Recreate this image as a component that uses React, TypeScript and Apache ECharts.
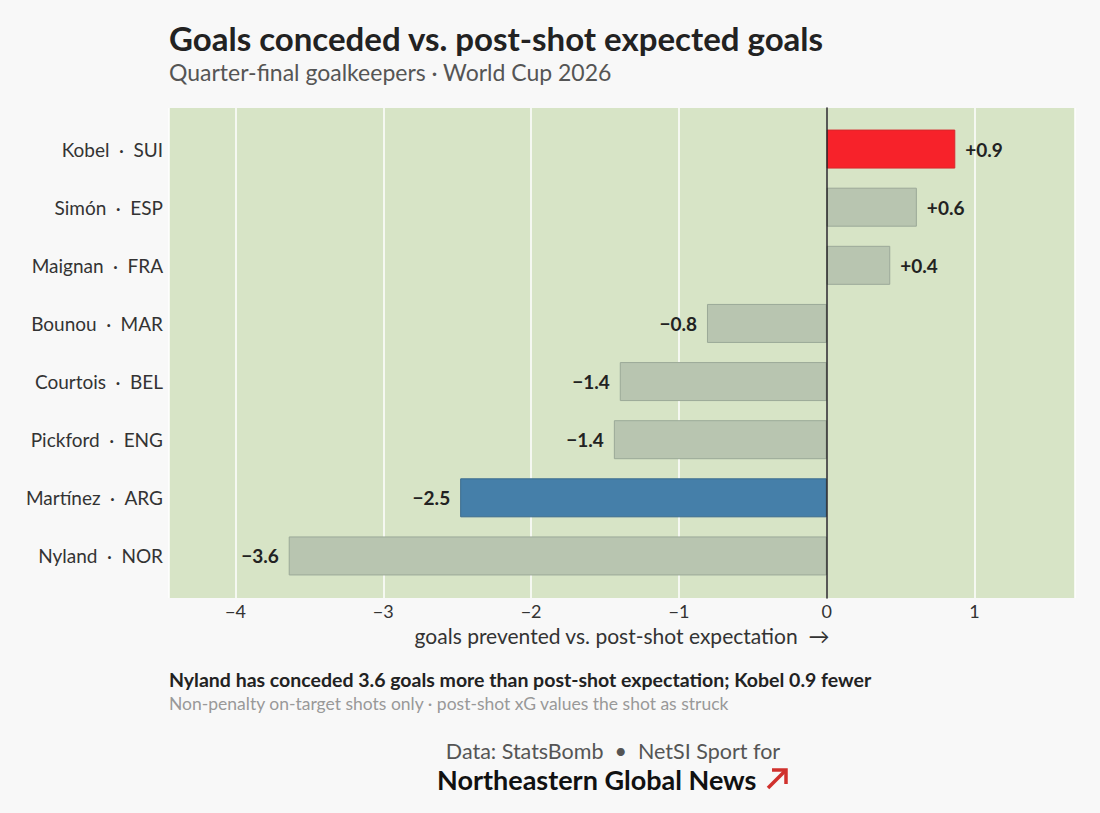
import { useEffect, useRef } from 'react';
import * as echarts from 'echarts';

const keepers = ['Kobel', 'Simón', 'Maignan', 'Bounou', 'Courtois', 'Pickford', 'Martínez', 'Nyland'];
const nations = ['SUI', 'ESP', 'FRA', 'MAR', 'BEL', 'ENG', 'ARG', 'NOR'];
// goals prevented vs. post-shot xG
const goalsPrevented = [0.87, 0.61, 0.43, -0.81, -1.4, -1.44, -2.48, -3.64];
const xMin = -4.45;
const xMax = 1.68;

const TITLE = 'Goals conceded vs. post-shot expected goals';
const SUBTITLE = 'Quarter-final goalkeepers · World Cup 2026';
const AXIS_NAME = 'goals prevented vs. post-shot expectation  →';
const TAKEAWAY = 'Nyland has conceded 3.6 goals more than post-shot expectation; Kobel 0.9 fewer';
const NOTE = 'Non-penalty on-target shots only · post-shot xG values the shot as struck';
const SOURCE = 'Data: StatsBomb  •  NetSI Sport for';
const BRAND = 'Northeastern Global News';

const FONT = 'Lato, "Noto Sans", sans-serif';

const barColor = (nation: string) => {
  if (nation === 'SUI') return { fill: '#f7222a', border: '#d9282c' };
  if (nation === 'ARG') return { fill: '#457fa9', border: '#3b6b8e' };
  return { fill: '#b8c5b0', border: '#9ba998' };
};

const signed = (v: number) => (v < 0 ? '\u2212' : '+') + Math.abs(v).toFixed(1);
const tick = (v: number) => (v < 0 ? '\u2212' + Math.abs(v) : String(v));

export default function App() {
  const chartRef = useRef<HTMLDivElement>(null);

  useEffect(() => {
    document.body.style.margin = '0';
    if (!chartRef.current) return;
    const chart = echarts.init(chartRef.current, undefined, { renderer: 'svg' });

    const labels = keepers.map((k, i) => `${k}\u2002·\u2002${nations[i]}`);

    chart.setOption({
      animation: false,
      backgroundColor: '#f8f8f8',
      textStyle: { fontFamily: FONT },
      grid: [
        // background panel with gridlines
        { left: 169, right: 25, top: 108, bottom: 215, show: true, backgroundColor: '#d7e4c6', borderWidth: 0 },
        // bars
        { left: 169, right: 25, top: 120, bottom: 228 },
      ],
      xAxis: [
        {
          gridIndex: 0,
          type: 'value',
          min: xMin,
          max: xMax,
          splitNumber: 6,
          minInterval: 1,
          maxInterval: 1,
          axisLine: { show: false },
          axisTick: { show: false },
          splitLine: { lineStyle: { color: '#ffffff', width: 1.5 } },
          axisLabel: {
            showMinLabel: false,
            showMaxLabel: false,
            color: '#333',
            fontSize: 18,
            margin: 4,
            fontFamily: FONT,
            formatter: (v: number) => tick(v),
          },
          name: AXIS_NAME,
          nameLocation: 'middle',
          nameGap: 27,
          nameTextStyle: { color: '#333', fontSize: 21, fontFamily: FONT },
        },
        {
          gridIndex: 1,
          type: 'value',
          min: xMin,
          max: xMax,
          show: false,
        },
      ],
      yAxis: [
        {
          gridIndex: 0,
          type: 'value',
          min: 0,
          max: 1,
          z: 10,
          axisLine: { show: true, onZero: true, lineStyle: { color: '#222', width: 1.5 } },
          axisTick: { show: false },
          axisLabel: { show: false },
          splitLine: { show: false },
        },
        {
          gridIndex: 1,
          type: 'category',
          inverse: true,
          data: labels,
          axisLine: { show: false },
          axisTick: { show: false },
          axisLabel: { color: '#333', fontSize: 19, margin: 6, fontFamily: FONT },
        },
      ],
      series: [
        {
          type: 'bar',
          xAxisIndex: 1,
          yAxisIndex: 1,
          barWidth: 39,
          data: goalsPrevented.map((v, i) => {
            const c = barColor(nations[i]);
            return {
              value: v,
              itemStyle: { color: c.fill, borderColor: c.border, borderWidth: 1 },
              label: {
                show: true,
                position: v < 0 ? 'left' : 'right',
                distance: 10,
                formatter: () => signed(v),
                color: '#222',
                fontSize: 19,
                fontWeight: 'bold',
                fontFamily: FONT,
              },
            };
          }),
        },
      ],
      graphic: [
        {
          type: 'text',
          x: 169,
          y: 38,
          style: { text: TITLE, fill: '#222', fontSize: 33, fontWeight: 'bold', fontFamily: FONT, verticalAlign: 'middle' },
        },
        {
          type: 'text',
          x: 169,
          y: 72,
          style: { text: SUBTITLE, fill: '#555', fontSize: 23, fontFamily: FONT, verticalAlign: 'middle' },
        },
        {
          type: 'text',
          x: 169,
          y: 679,
          style: { text: TAKEAWAY, fill: '#222', fontSize: 19.5, fontWeight: 'bold', fontFamily: FONT, verticalAlign: 'middle' },
        },
        {
          type: 'text',
          x: 169,
          y: 703,
          style: { text: NOTE, fill: '#999', fontSize: 17.5, fontFamily: FONT, verticalAlign: 'middle' },
        },
        {
          type: 'text',
          x: 613,
          y: 751,
          style: { text: SOURCE, fill: '#555', fontSize: 21.5, fontFamily: FONT, align: 'center', verticalAlign: 'middle' },
        },
        {
          type: 'text',
          x: 437,
          y: 779,
          style: { text: BRAND, fill: '#111', fontSize: 27, fontWeight: 'bold', fontFamily: FONT, verticalAlign: 'middle' },
        },
        {
          type: 'group',
          children: [
            { type: 'line', shape: { x1: 768, y1: 788, x2: 785, y2: 771 }, style: { stroke: '#d0312d', lineWidth: 3.5 } },
            {
              type: 'polyline',
              shape: { points: [[772, 770], [786, 770], [786, 784]] },
              style: { stroke: '#d0312d', lineWidth: 3.5, fill: 'none' },
            },
          ],
        },
      ],
    });

    return () => chart.dispose();
  }, []);

  return <div ref={chartRef} style={{ width: 1100, height: 813 }} />;
}
